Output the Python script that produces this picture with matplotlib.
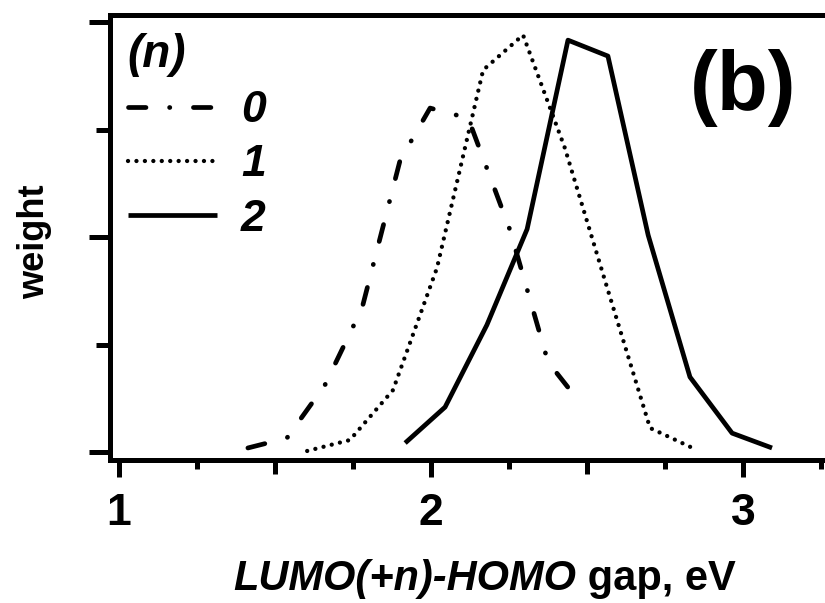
import numpy as np
import matplotlib
matplotlib.use('Agg')
import matplotlib.pyplot as plt
from matplotlib.ticker import FixedLocator

plt.rcParams['font.family'] = ['Liberation Sans', 'DejaVu Sans']
plt.rcParams['font.weight'] = 'bold'

# gap values (eV) and weights
x0 = [1.413, 1.538, 1.660, 1.779, 1.901, 1.997, 2.119, 2.253, 2.375, 2.471]
w0 = [0.019, 0.065, 0.312, 0.670, 1.358, 1.600, 1.553, 1.033, 0.419, 0.242]

x1 = [1.603, 1.740, 1.878, 2.019, 2.167, 2.295, 2.429, 2.564, 2.702, 2.853]
w1 = [0.005, 0.056, 0.288, 0.856, 1.777, 1.940, 1.414, 0.767, 0.112, 0.009]

x2 = [1.917, 2.045, 2.179, 2.308, 2.439, 2.567, 2.696, 2.830, 2.965, 3.093]
w2 = [0.042, 0.209, 0.591, 1.037, 1.916, 1.842, 1.009, 0.349, 0.088, 0.019]

labels = ['0', '1', '2']

fig = plt.figure(figsize=(8.25, 6.03), dpi=100)
ax = fig.add_axes([110/825, 1 - 460/603, 1 - 110/825, (460 - 15)/603])

lw = 3.4
ax.plot(x0, w0, color='black', lw=lw, dashes=(3.7, 5.0, 0.05, 5.0),
        dash_capstyle='round', label=labels[0])
ax.plot(x1, w1, color='black', lw=3.1, dashes=(0.01, 1.95),
        dash_capstyle='round', label=labels[1])
ax.plot(x2, w2, color='black', lw=lw, solid_capstyle='butt', label=labels[2])

ax.set_xlim(0.971, 1 + (825 - 119) / 312)
ax.set_ylim(-0.037, 2.033)

for s in ['left', 'bottom', 'top']:
    ax.spines[s].set_linewidth(3.6)
ax.spines['right'].set_visible(False)

xminor = [1.25, 1.5, 1.75, 2.25, 2.5, 2.75, 3.25]
ax.xaxis.set_major_locator(FixedLocator([1, 2, 3]))
ax.xaxis.set_minor_locator(FixedLocator(xminor))
ax.yaxis.set_major_locator(FixedLocator([0, 1, 2]))
ax.yaxis.set_minor_locator(FixedLocator([0.5, 1.5]))

ax.tick_params(axis='x', which='major', direction='out', length=12.5, width=3.6,
               pad=11, labelsize=32)
ax.tick_params(axis='x', which='minor', direction='out', length=6.5, width=3.6)
ax.tick_params(axis='y', which='major', direction='out', length=15, width=3.6,
               labelleft=False)
ax.tick_params(axis='y', which='minor', direction='out', length=10, width=3.6)
# the half-unit x ticks are a bit longer than the quarter ones
for t, v in zip(ax.xaxis.get_minor_ticks(), xminor):
    if v in (1.5, 2.5):
        t.tick1line.set_markersize(10)

leg = ax.legend(title='(n)', loc='upper left', frameon=False, alignment='left',
                handlelength=2.0, handletextpad=0.55, labelspacing=0.3,
                borderaxespad=0.0, borderpad=0.4,
                prop={'size': 32, 'weight': 'bold', 'style': 'italic'},
                title_fontproperties={'size': 33, 'weight': 'bold', 'style': 'italic'})

fig.text(690/825, 1 - 110/603, '(b)', fontsize=60, fontweight='bold',
         ha='left', va='baseline')

fig.text(35/825, 1 - 242/603, 'weight', rotation=90, fontsize=26,
         fontweight='bold', ha='center', va='center')

t1 = fig.text(233/825, 1 - 590/603, 'LUMO(+n)-HOMO', fontsize=30,
              fontweight='bold', style='italic', ha='left', va='baseline')
ax.annotate(' gap, eV', xy=(1, 0), xycoords=t1, fontsize=30, fontweight='bold',
            ha='left', va='bottom', annotation_clip=False)

fig.savefig('out.png', dpi=100)
